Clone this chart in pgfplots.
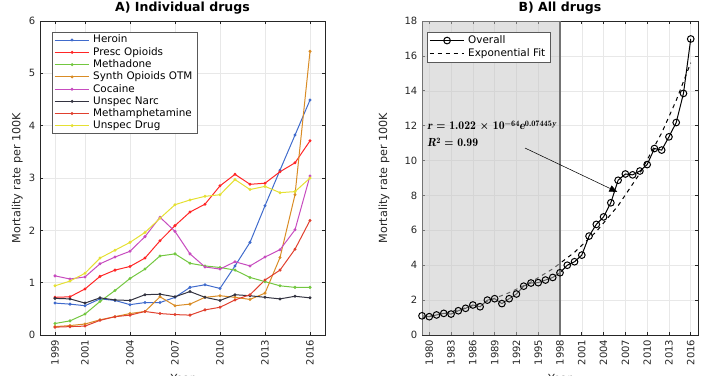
\documentclass[border=0pt]{standalone}
\usepackage{pgfplots}
\pgfplotsset{compat=1.18}
\usepackage{fontspec}
\setmainfont{DejaVu Sans}
\usetikzlibrary{arrows.meta}
\definecolor{cHer}{rgb}{0.25,0.42,0.80}
\definecolor{cPre}{rgb}{1.00,0.15,0.15}
\definecolor{cMet}{rgb}{0.45,0.78,0.25}
\definecolor{cSyn}{rgb}{0.85,0.55,0.15}
\definecolor{cCoc}{rgb}{0.78,0.30,0.75}
\definecolor{cUna}{rgb}{0.20,0.20,0.25}
\definecolor{cMph}{rgb}{0.88,0.25,0.18}
\definecolor{cUdr}{rgb}{0.90,0.88,0.20}
\definecolor{axgray}{rgb}{0.15,0.15,0.15}
\definecolor{shadegray}{rgb}{0.77,0.77,0.77}
\definecolor{edgegray}{rgb}{0.45,0.45,0.45}
\newcommand{\annfont}{\fontfamily{lmr}\fontsize{8.8}{10}\selectfont\bfseries}
\newcommand{\sups}[1]{\raisebox{0.6ex}{\fontsize{6.2}{7}\selectfont #1}}
\pgfplotsset{
  every axis/.append style={
    scale only axis,
    axis line style={axgray},
    tick style={axgray, line width=0.5pt},
    major tick length=2.5pt,
    grid=major,
    grid style={gray!18, line width=0.4pt},
    tick label style={font=\fontsize{7.5}{9}\selectfont, text=axgray},
    label style={font=\fontsize{8.4}{10}\selectfont, text=axgray},
    title style={font=\fontsize{9.4}{11}\selectfont\bfseries, yshift=-4.5pt},
    /pgf/number format/assume math mode=true,
    /pgf/number format/1000 sep={},
    xticklabel style={rotate=90, anchor=east},
    legend cell align=left,
    legend image code/.code={\draw[mark repeat=2,mark phase=2] plot coordinates {(0pt,0pt) (13pt,0pt) (26pt,0pt)};},
  }
}
\begin{document}
\begin{tikzpicture}
\clip (0,0) rectangle (532.5pt,281.25pt);
% ---------------- A ----------------
\begin{axis}[
  at={(30pt,30pt)}, anchor=south west,
  width=213.75pt, height=235.5pt,
  xmin=1998, xmax=2017, ymin=0, ymax=6,
  xtick={1999,2001,2004,2007,2010,2013,2016},
  ytick={0,1,2,3,4,5,6},
  title={A) Individual drugs},
  xlabel={Year}, ylabel={Mortality rate per 100K},
  xlabel style={at={(rel axis cs:0.5,0)}, anchor=north, yshift=-26pt},
  ylabel style={at={(rel axis cs:-0.08,0.5)}, anchor=center},
  legend style={at={(0.042,0.965)}, anchor=north west, draw=gray!70!black, fill=white,
    font=\fontsize{7.8}{8.4}\selectfont, inner sep=1.5pt, row sep=0.6pt,
    nodes={inner ysep=0.6pt, inner xsep=2.5pt}},
  every axis plot/.append style={line width=0.75pt, mark=*, mark size=0.7pt},
]
\addplot[cHer] coordinates {(1999,0.61)(2000,0.59)(2001,0.56)(2002,0.69)(2003,0.66)(2004,0.58)(2005,0.62)(2006,0.62)(2007,0.72)(2008,0.91)(2009,0.96)(2010,0.89)(2011,1.32)(2012,1.77)(2013,2.47)(2014,3.15)(2015,3.82)(2016,4.49)};
\addlegendentry{Heroin}
\addplot[cPre] coordinates {(1999,0.72)(2000,0.73)(2001,0.88)(2002,1.12)(2003,1.24)(2004,1.31)(2005,1.47)(2006,1.80)(2007,2.09)(2008,2.35)(2009,2.50)(2010,2.85)(2011,3.07)(2012,2.88)(2013,2.90)(2014,3.12)(2015,3.29)(2016,3.71)};
\addlegendentry{Presc Opioids}
\addplot[cMet] coordinates {(1999,0.22)(2000,0.27)(2001,0.40)(2002,0.64)(2003,0.85)(2004,1.08)(2005,1.26)(2006,1.51)(2007,1.55)(2008,1.37)(2009,1.32)(2010,1.29)(2011,1.24)(2012,1.10)(2013,1.02)(2014,0.94)(2015,0.91)(2016,0.91)};
\addlegendentry{Methadone}
\addplot[cSyn] coordinates {(1999,0.16)(2000,0.18)(2001,0.21)(2002,0.29)(2003,0.35)(2004,0.41)(2005,0.45)(2006,0.73)(2007,0.56)(2008,0.59)(2009,0.72)(2010,0.75)(2011,0.72)(2012,0.68)(2013,0.80)(2014,1.48)(2015,2.68)(2016,5.42)};
\addlegendentry{Synth Opioids OTM}
\addplot[cCoc] coordinates {(1999,1.13)(2000,1.07)(2001,1.11)(2002,1.36)(2003,1.49)(2004,1.60)(2005,1.88)(2006,2.25)(2007,1.98)(2008,1.55)(2009,1.30)(2010,1.26)(2011,1.40)(2012,1.32)(2013,1.49)(2014,1.63)(2015,2.01)(2016,3.04)};
\addlegendentry{Cocaine}
\addplot[cUna] coordinates {(1999,0.70)(2000,0.69)(2001,0.61)(2002,0.71)(2003,0.67)(2004,0.66)(2005,0.77)(2006,0.78)(2007,0.73)(2008,0.83)(2009,0.72)(2010,0.66)(2011,0.77)(2012,0.75)(2013,0.72)(2014,0.69)(2015,0.74)(2016,0.71)};
\addlegendentry{Unspec Narc}
\addplot[cMph] coordinates {(1999,0.15)(2000,0.16)(2001,0.17)(2002,0.28)(2003,0.35)(2004,0.38)(2005,0.45)(2006,0.41)(2007,0.39)(2008,0.38)(2009,0.48)(2010,0.53)(2011,0.67)(2012,0.77)(2013,1.05)(2014,1.24)(2015,1.64)(2016,2.19)};
\addlegendentry{Methamphetamine}
\addplot[cUdr] coordinates {(1999,0.94)(2000,1.03)(2001,1.18)(2002,1.47)(2003,1.62)(2004,1.77)(2005,1.96)(2006,2.23)(2007,2.49)(2008,2.58)(2009,2.65)(2010,2.68)(2011,2.97)(2012,2.78)(2013,2.84)(2014,2.72)(2015,2.74)(2016,3.00)};
\addlegendentry{Unspec Drug}
\end{axis}
% ---------------- B ----------------
\begin{axis}[
  at={(316.5pt,30pt)}, anchor=south west,
  width=207pt, height=235.5pt,
  xmin=1979, xmax=2017, ymin=0, ymax=18,
  xtick={1980,1983,1986,1989,1992,1995,1998,2001,2004,2007,2010,2013,2016},
  ytick={0,2,4,6,8,10,12,14,16,18},
  title={B) All drugs},
  xlabel={Year}, ylabel={Mortality rate per 100K},
  xlabel style={at={(rel axis cs:0.5,0)}, anchor=north, yshift=-26pt},
  ylabel style={at={(rel axis cs:-0.138,0.5)}, anchor=center},
  legend style={at={(0.018,0.965)}, anchor=north west, draw=gray!70!black, fill=white,
    font=\fontsize{7.8}{8.4}\selectfont, inner sep=1.5pt, row sep=0.6pt,
    nodes={inner ysep=1pt, inner xsep=2.5pt}},
]
\addplot[black, line width=0.75pt, mark=o, mark size=2.5pt] coordinates {(1979,1.10)(1980,1.05)(1981,1.15)(1982,1.24)(1983,1.20)(1984,1.39)(1985,1.53)(1986,1.72)(1987,1.62)(1988,2.00)(1989,2.08)(1990,1.80)(1991,2.08)(1992,2.35)(1993,2.80)(1994,2.98)(1995,3.00)(1996,3.15)(1997,3.30)(1998,3.57)(1999,4.00)(2000,4.20)(2001,4.58)(2002,5.67)(2003,6.34)(2004,6.77)(2005,7.58)(2006,8.87)(2007,9.23)(2008,9.18)(2009,9.40)(2010,9.77)(2011,10.69)(2012,10.60)(2013,11.36)(2014,12.18)(2015,13.85)(2016,16.97)};
\addlegendentry{Overall}
\addplot[black, line width=0.75pt, dashed, no marks] coordinates {(1979,0.993)(1982,1.241)(1985,1.552)(1988,1.941)(1991,2.426)(1994,3.033)(1997,3.792)(2000,4.742)(2003,5.928)(2006,7.412)(2009,9.267)(2012,11.585)(2014,13.447)(2016,15.606)};
\addlegendentry{Exponential Fit}
\addplot[forget plot, draw=none, fill=shadegray, fill opacity=0.5, no marks] coordinates {(1979,0)(1998,0)(1998,18)(1979,18)} \closedcycle;
\addplot[forget plot, edgegray, line width=0.8pt, no marks] coordinates {(1979.1,0)(1979.1,18)};
\addplot[forget plot, edgegray, line width=0.8pt, no marks] coordinates {(1998,0)(1998,18)};
\end{axis}
\path (320.3pt,187.5pt) node[anchor=west, inner sep=0pt] {\annfont\itshape r\upshape{} = 1.022 × 10\sups{−64}\itshape e\sups{\upshape 0.07445\itshape y}};
\path (320.3pt,174.3pt) node[anchor=west, inner sep=0pt] {\annfont\itshape R\upshape\sups{2} = 0.99};
\draw[black, line width=0.4pt, -{Triangle[length=6pt, width=5pt]}] (393.8pt,170.2pt) -- (463.0pt,137.3pt);
\end{tikzpicture}
\end{document}
